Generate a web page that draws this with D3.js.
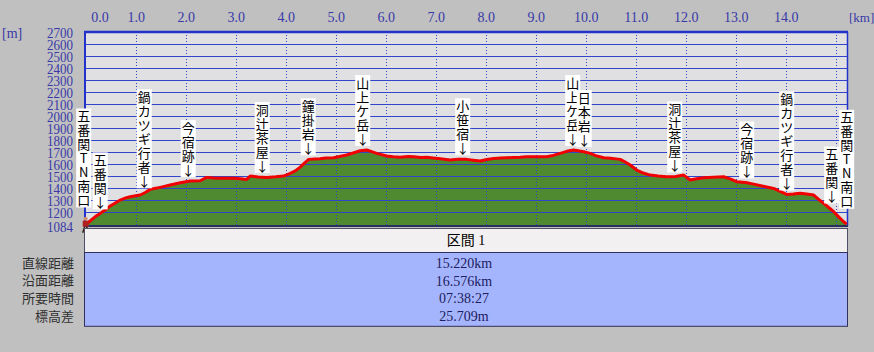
<!DOCTYPE html>
<html>
<head>
<meta charset="utf-8">
<script src="https://cdn.jsdelivr.net/npm/d3@7"></script>
<style>
  body { margin: 0; background: #c0c0c0; }
  svg { display: block; }
</style>
</head>
<body>
<div id="profile"></div>
<script>
// distance along the route [km] and elevation [m]
const distKm = [0.00, 0.10, 0.20, 0.29, 0.40, 0.49, 0.60, 0.69, 0.80, 0.89, 1.00, 1.09, 1.20, 1.29, 1.40, 1.49,
  1.69, 1.89, 2.09, 2.29, 2.42, 2.55, 2.69, 2.95, 3.10, 3.22, 3.29, 3.45, 3.62, 3.80, 3.96, 4.09, 4.20, 4.29,
  4.38, 4.46, 4.58, 4.69, 4.80, 4.96, 5.10, 5.22, 5.35, 5.49, 5.62, 5.72, 5.82, 6.02, 6.15, 6.29, 6.45, 6.56,
  6.70, 6.82, 6.95, 7.09, 7.29, 7.45, 7.62, 7.75, 7.89, 8.02, 8.16, 8.29, 8.42, 8.55, 8.69, 8.82, 8.96, 9.10,
  9.22, 9.35, 9.49, 9.62, 9.76, 9.88, 9.96, 10.09, 10.20, 10.36, 10.50, 10.69, 10.80, 10.89, 11.02, 11.15,
  11.29, 11.45, 11.62, 11.80, 11.96, 12.09, 12.22, 12.36, 12.55, 12.76, 12.90, 13.02, 13.20, 13.36, 13.55,
  13.76, 13.90, 14.02, 14.15, 14.29, 14.42, 14.56, 14.66, 14.76, 14.86, 14.96, 15.06, 15.16, 15.22];
const elevM = [1095, 1130, 1165, 1189, 1222, 1250, 1278, 1300, 1318, 1328, 1336, 1342, 1365, 1389, 1398, 1406,
  1425, 1444, 1458, 1461, 1489, 1483, 1481, 1481, 1478, 1472, 1500, 1492, 1489, 1494, 1500, 1522, 1545, 1575,
  1610, 1639, 1642, 1644, 1650, 1653, 1665, 1675, 1692, 1711, 1717, 1703, 1689, 1667, 1660, 1656, 1662, 1661,
  1655, 1656, 1650, 1644, 1633, 1640, 1639, 1632, 1625, 1638, 1647, 1650, 1653, 1655, 1656, 1660, 1661, 1660,
  1661, 1672, 1689, 1706, 1717, 1708, 1703, 1689, 1670, 1653, 1648, 1639, 1615, 1592, 1550, 1525,
  1508, 1500, 1494, 1497, 1508, 1467, 1478, 1486, 1490, 1494, 1475, 1453, 1447, 1433, 1415,
  1397, 1370, 1347, 1350, 1356, 1350, 1342, 1305, 1272, 1238, 1203, 1160, 1119, 1100];

const xTicks = [0, 1, 2, 3, 4, 5, 6, 7, 8, 9, 10, 11, 12, 13, 14];
const xGrid = [1, 2, 3, 4, 5, 6, 7, 8, 9, 10, 11, 12, 13, 14, 15];
const yTicks = [2700, 2600, 2500, 2400, 2300, 2200, 2100, 2000, 1900, 1800, 1700, 1600, 1500, 1400, 1300, 1200, 1084];

// waypoints
const labelKm = [0, 0.29, 1.17, 2.05, 3.53, 4.45, 5.54, 7.54, 9.74, 9.97, 11.78, 13.22, 14.02, 14.92, 15.22];
const labelText = ["五番関TN南口", "五番関", "鍋カツギ行者", "今宿跡", "洞辻茶屋", "鐘掛岩", "山上ケ岳", "小笹宿",
  "山上ケ岳", "日本岩", "洞辻茶屋", "今宿跡", "鍋カツギ行者", "五番関", "五番関TN南口"];
const labelArrow = [false, true, true, true, true, true, true, true, true, true, true, true, true, true, false];

// summary table
const sectionTitle = "区間 1";
const statNames = ["直線距離", "沿面距離", "所要時間", "標高差"];
const statValues = ["15.220km", "16.576km", "07:38:27", "25.709m"];

const width = 874, height = 352;
const plot = {left: 84, right: 847, top: 32, bottom: 226};

const x = d3.scaleLinear().domain([0, 15.22]).range([85.7, 846.7]);
const y = d3.scaleLinear().domain([1084, 2700]).range([226, 32]);

const svg = d3.select("#profile").append("svg")
    .attr("width", width)
    .attr("height", height);

svg.append("rect")
    .attr("width", width).attr("height", height)
    .attr("fill", "#c0c0c0");

// plot background
svg.append("rect")
    .attr("x", plot.left).attr("y", plot.top)
    .attr("width", plot.right - plot.left).attr("height", plot.bottom - plot.top)
    .attr("fill", "#e0e0e2");

const points = distKm.map((d, i) => [d, elevM[i]]);

// green area under profile
svg.append("path")
    .datum(points)
    .attr("fill", "#4f8a30")
    .attr("d", d3.area().x(d => x(d[0])).y0(y(1084)).y1(d => y(d[1])));

// grid
svg.append("g")
    .attr("stroke", "#3344cc").attr("stroke-width", 1)
  .selectAll("line")
  .data(yTicks.filter(d => d !== 2700 && d !== 1084))
  .join("line")
    .attr("x1", plot.left).attr("x2", plot.right)
    .attr("y1", d => Math.round(y(d)) + 0.5).attr("y2", d => Math.round(y(d)) + 0.5);

svg.append("g")
    .attr("stroke", "#3344cc").attr("stroke-width", 1).attr("stroke-dasharray", "1,2")
  .selectAll("line")
  .data(xGrid)
  .join("line")
    .attr("x1", d => Math.round(x(d)) + 0.5).attr("x2", d => Math.round(x(d)) + 0.5)
    .attr("y1", plot.top).attr("y2", plot.bottom);

// frame
svg.append("line")
    .attr("x1", plot.left).attr("x2", plot.right + 1)
    .attr("y1", plot.top).attr("y2", plot.top)
    .attr("stroke", "#2233cc").attr("stroke-width", 2.5);
svg.append("line")
    .attr("x1", plot.left + 1).attr("x2", plot.left + 1)
    .attr("y1", plot.top).attr("y2", plot.bottom)
    .attr("stroke", "#2233cc").attr("stroke-width", 2);
svg.append("line")
    .attr("x1", plot.right + 0.5).attr("x2", plot.right + 0.5)
    .attr("y1", plot.top).attr("y2", plot.bottom)
    .attr("stroke", "#2233cc").attr("stroke-width", 1.5);

// red profile line
svg.append("path")
    .datum(points)
    .attr("fill", "none")
    .attr("stroke", "#f00000")
    .attr("stroke-width", 3)
    .attr("stroke-linejoin", "round")
    .attr("d", d3.line().x(d => x(d[0])).y(d => y(d[1])));

svg.append("line")
    .attr("x1", plot.left).attr("x2", plot.right + 1)
    .attr("y1", plot.bottom).attr("y2", plot.bottom)
    .attr("stroke", "#283060").attr("stroke-width", 2);

// axes
const xAxis = svg.append("g")
    .attr("transform", "translate(0,22)")
    .call(d3.axisTop(x).tickValues(xTicks).tickFormat(d3.format(".1f")).tickSize(0).tickPadding(0));
xAxis.select(".domain").remove();
xAxis.selectAll("text")
    .attr("fill", "#3838a8")
    .style("font", "14px 'Liberation Serif'");
xAxis.selectAll(".tick").filter(d => d === 0).select("text")
    .attr("text-anchor", "start").attr("dx", 5);

const yAxis = svg.append("g")
    .attr("transform", "translate(73,0)")
    .call(d3.axisLeft(y).tickValues(yTicks).tickFormat(d3.format("d")).tickSize(0).tickPadding(0));
yAxis.select(".domain").remove();
yAxis.selectAll("text")
    .attr("fill", "#3838a8")
    .attr("dy", "0.36em")
    .style("font", "14px 'Liberation Serif'")
    .attr("transform", "scale(0.93,1)");

svg.append("text")
    .attr("x", 2).attr("y", 38)
    .attr("fill", "#3838a8")
    .style("font", "14px 'Liberation Serif'")
    .text("[m]");
svg.append("text")
    .attr("x", 849).attr("y", 22)
    .attr("fill", "#3838a8")
    .style("font", "13px 'Liberation Serif'")
    .text("[km]");

// start marker (hiker)
const startX = x(0), startY = y(elevM[0]);
const hiker = svg.append("g").attr("transform", `translate(${startX},${startY})`);
hiker.append("circle").attr("cx", 0).attr("cy", -6).attr("r", 2).attr("fill", "#d09070");
hiker.append("rect").attr("x", -3).attr("y", -4).attr("width", 6).attr("height", 6).attr("fill", "#b02020");
hiker.append("path").attr("d", "M-1,2 L-3,8 M1,2 L3,8").attr("stroke", "#3a2010").attr("stroke-width", 1.5);

// waypoint labels
const elevAt = km => {
  let m = -Infinity;
  distKm.forEach((d, i) => { if (Math.abs(d - km) <= 0.1) m = Math.max(m, elevM[i]); });
  return m;
};
const rowH = 14;
labelKm.forEach((km, i) => {
  const chars = Array.from(labelText[i]);
  if (labelArrow[i]) chars.push("↓");
  const bottom = y(elevAt(km)) - (labelArrow[i] ? 4 : 13);
  const top = bottom - chars.length * rowH;
  const cx = x(km) - (i === 0 ? 2 : 0);
  const g = svg.append("g");
  g.append("rect")
      .attr("x", cx - 7.5).attr("y", top - 1)
      .attr("width", 15).attr("height", chars.length * rowH + 1)
      .attr("fill", "#ffffff");
  g.selectAll("text")
    .data(chars)
    .join("text")
      .attr("x", cx)
      .attr("y", (d, j) => top + j * rowH + rowH / 2)
      .attr("dy", "0.36em")
      .attr("text-anchor", "middle")
      .attr("fill", "#000")
      .style("font", "13px 'Noto Sans CJK JP'")
      .text(d => d);
});

// summary table
const tableTop = 228, headH = 24, rowStep = 17.7;
svg.append("rect")
    .attr("x", plot.left + 0.5).attr("y", tableTop + 0.5)
    .attr("width", plot.right - plot.left).attr("height", headH)
    .attr("fill", "#f2f0f0").attr("stroke", "#505068");
svg.append("rect")
    .attr("x", plot.left + 0.5).attr("y", tableTop + headH + 0.5)
    .attr("width", plot.right - plot.left).attr("height", statNames.length * rowStep + 3)
    .attr("fill", "#a5b5fd").attr("stroke", "#303058");

svg.append("text")
    .attr("x", 466).attr("y", tableTop + headH / 2)
    .attr("dy", "0.36em")
    .attr("text-anchor", "middle")
    .attr("fill", "#000")
    .style("font", "14px 'Liberation Serif', 'Noto Sans CJK JP'")
    .text(sectionTitle);

const rowY = d3.scaleLinear().domain([0, 1]).range([tableTop + headH + 11, tableTop + headH + 11 + rowStep]);

svg.append("g")
  .selectAll("text")
  .data(statNames)
  .join("text")
    .attr("x", 74).attr("y", (d, i) => rowY(i))
    .attr("dy", "0.36em")
    .attr("text-anchor", "end")
    .attr("fill", "#303030")
    .style("font", "13px 'Noto Sans CJK JP'")
    .text(d => d);

svg.append("g")
  .selectAll("text")
  .data(statValues)
  .join("text")
    .attr("x", 464).attr("y", (d, i) => rowY(i))
    .attr("dy", "0.36em")
    .attr("text-anchor", "middle")
    .attr("fill", "#202060")
    .style("font", "14px 'Liberation Serif'")
    .text(d => d);
</script>
</body>
</html>
